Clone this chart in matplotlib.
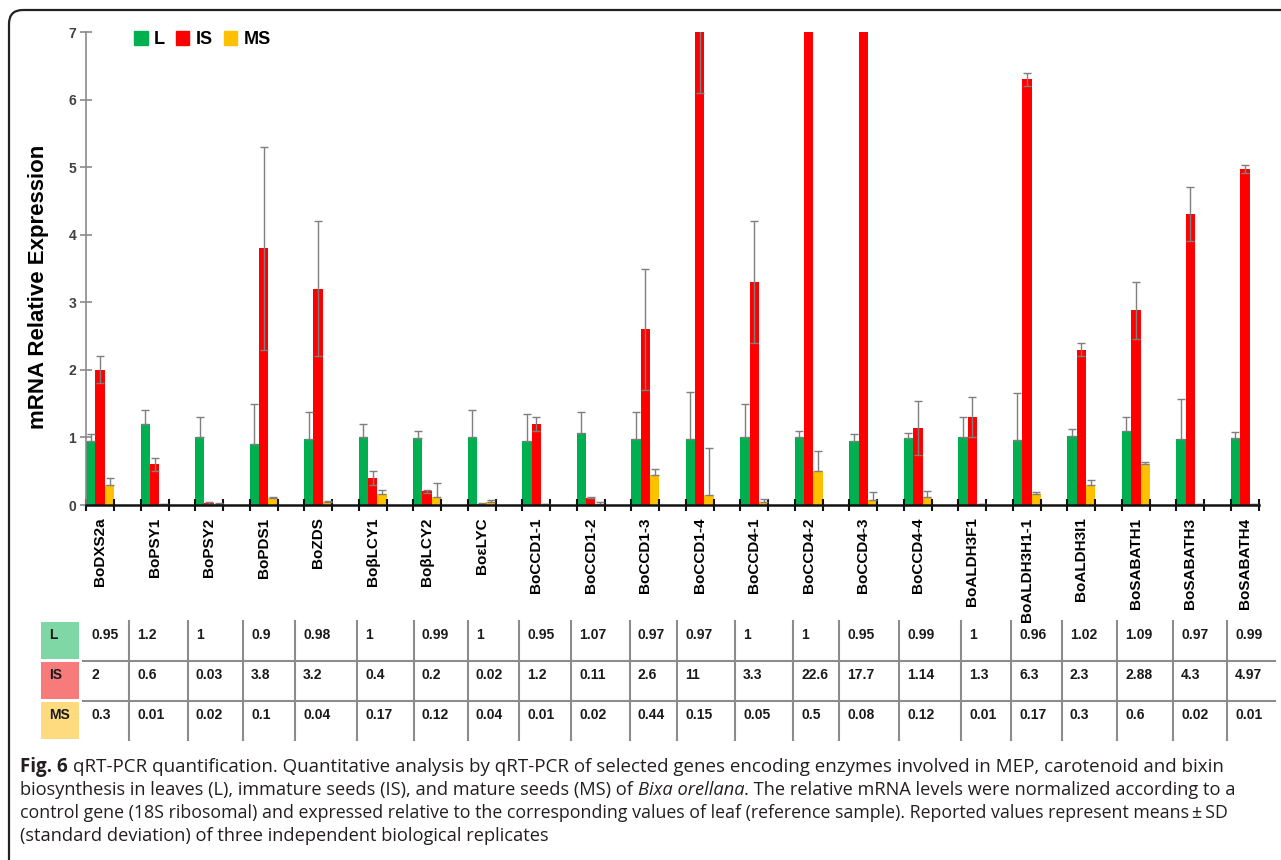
import matplotlib
matplotlib.use("Agg")
import matplotlib.pyplot as plt
import numpy as np
from matplotlib.patches import FancyBboxPatch, Rectangle, Patch

plt.rcParams["font.family"] = ["Liberation Sans", "DejaVu Sans"]

# gene names and mean relative expression (from the table)
genes = ["BoDXS2a", "BoPSY1", "BoPSY2", "BoPDS1", "BoZDS", "BoβLCY1", "BoβLCY2",
         "BoεLYC", "BoCCD1-1", "BoCCD1-2", "BoCCD1-3", "BoCCD1-4", "BoCCD4-1",
         "BoCCD4-2", "BoCCD4-3", "BoCCD4-4", "BoALDH3F1", "BoALDH3H1-1",
         "BoALDH3I1", "BoSABATH1", "BoSABATH3", "BoSABATH4"]
L = [0.95, 1.2, 1, 0.9, 0.98, 1, 0.99, 1, 0.95, 1.07, 0.97, 0.97, 1, 1, 0.95,
     0.99, 1, 0.96, 1.02, 1.09, 0.97, 0.99]
IS = [2, 0.6, 0.03, 3.8, 3.2, 0.4, 0.2, 0.02, 1.2, 0.11, 2.6, 11, 3.3, 22.6,
      17.7, 1.14, 1.3, 6.3, 2.3, 2.88, 4.3, 4.97]
MS = [0.3, 0.01, 0.02, 0.1, 0.04, 0.17, 0.12, 0.04, 0.01, 0.02, 0.44, 0.15,
      0.05, 0.5, 0.08, 0.12, 0.01, 0.17, 0.3, 0.6, 0.02, 0.01]
# standard deviations
L_sd = [0.1, 0.2, 0.3, 0.6, 0.4, 0.2, 0.1, 0.4, 0.4, 0.3, 0.4, 0.7, 0.5, 0.1,
        0.1, 0.07, 0.3, 0.7, 0.1, 0.21, 0.6, 0.09]
IS_sd = [0.2, 0.1, 0.01, 1.5, 1.0, 0.1, 0.02, 0.01, 0.1, 0.01, 0.9, 4.9, 0.9,
         2.0, 1.5, 0.4, 0.3, 0.1, 0.1, 0.42, 0.4, 0.06]
MS_sd = [0.1, 0.0, 0.01, 0.02, 0.02, 0.05, 0.2, 0.03, 0.0, 0.03, 0.1, 0.7,
         0.04, 0.3, 0.11, 0.09, 0.0, 0.02, 0.07, 0.03, 0.0, 0.0]

row_names = ["L", "IS", "MS"]
bar_colors = ["#00B050", "#FF0000", "#FFC000"]
head_colors = ["#80D7A6", "#F77B7B", "#FFDB80"]

W, H = 1281, 860
fig = plt.figure(figsize=(W / 100, H / 100), dpi=100)

# full-figure canvas in pixel units for frame, table and caption
cv = fig.add_axes([0, 0, 1, 1], zorder=0)
cv.set_xlim(0, W)
cv.set_ylim(H, 0)
cv.axis("off")
cv.add_patch(FancyBboxPatch((9, 10), 1400, 1000,
                            boxstyle="round,pad=0,rounding_size=14",
                            fc="none", ec="#222222", lw=1.6))

# ---- bar chart ----
ax = fig.add_axes([86 / W, 1 - 505 / H, (1259 - 86) / W, (505 - 32) / H], zorder=1)
ax.set_facecolor("none")
x = np.arange(len(genes))
w = 0.174
ekw = dict(ecolor="#7f7f7f", elinewidth=1, capsize=3, capthick=1)
ax.bar(x - w, L, w, color=bar_colors[0], label="L",
       yerr=[np.zeros(len(L)), L_sd], error_kw=ekw)
ax.bar(x, IS, w, color=bar_colors[1], label="IS", yerr=IS_sd, error_kw=ekw)
ax.bar(x + w, MS, w, color=bar_colors[2], label="MS",
       yerr=[np.zeros(len(MS)), MS_sd], error_kw=ekw)

ax.set_xlim(-1.5 * w, len(genes) - 1 + 1.5 * w)
ax.set_ylim(0, 7)
ax.set_yticks(range(8))
for sp in ["top", "right"]:
    ax.spines[sp].set_visible(False)
ax.spines["left"].set_color("#8a8a8a")
ax.spines["left"].set_linewidth(1.2)
ax.spines["bottom"].set_color("#111111")
ax.spines["bottom"].set_linewidth(1.8)
ax.tick_params(axis="y", direction="inout", length=8, width=1.2, color="#8a8a8a",
               labelsize=10, labelcolor="#404040", pad=3)
for t in ax.get_yticklabels():
    t.set_fontweight("bold")
ax.set_xticks(x)
ax.set_xticklabels(genes, rotation=90, fontsize=11, fontweight="bold")
ax.tick_params(axis="x", which="major", length=0, pad=9)
edges = np.concatenate([x - 1.5 * w, x + 1.5 * w])
ax.set_xticks(edges, minor=True)
ax.tick_params(axis="x", which="minor", direction="inout", length=9, width=1.5,
               color="#111111")
ax.set_ylabel("mRNA Relative Expression", fontsize=16, fontweight="bold")
ax.yaxis.set_label_coords(-0.0315, 0.462)
handles = [Patch(color=c) for c in bar_colors]
fig.legend(handles, row_names, loc="upper left", bbox_to_anchor=(118 / W, 1 - 15 / H),
           ncol=3, frameon=False, handlelength=0.75, handleheight=0.75,
           handletextpad=0.35, columnspacing=0.6,
           prop=dict(weight="bold", size=13))

# ---- value table ----
col_edges = [83, 129, 188, 243, 295, 357, 414, 468, 519, 571, 630, 677, 735, 793,
             839, 899, 961, 1011, 1062, 1117, 1173, 1227, 1275]
row_top = [622, 662, 702]
row_h = 37
grid = "#8c8c8c"
for r, vals in enumerate([L, IS, MS]):
    cv.add_patch(Rectangle((41, row_top[r]), 38, row_h, fc=head_colors[r], ec="none"))
    cv.text(49, row_top[r] + 13, row_names[r], fontsize=10, fontweight="bold",
            va="center", ha="left", color="#1a1a1a")
    for j, v in enumerate(vals):
        cv.text(col_edges[j] + 8, row_top[r] + 13, "{:g}".format(v), fontsize=10,
                fontweight="bold", va="center", ha="left", color="#1a1a1a")
for xe in col_edges[1:-1]:
    cv.plot([xe, xe], [621, 740], color=grid, lw=1.5)
for ye in [661, 701]:
    cv.plot([83, 1275], [ye, ye], color=grid, lw=1.5)

# ---- caption ----
renderer = fig.canvas.get_renderer()
base = 13.4
cap = dict(family="Open Sans", color="#231f20")


def text_width(s, size, **kw):
    t = cv.text(0, 0, s, fontsize=size, **dict(cap, **kw))
    wd = t.get_window_extent(renderer=renderer).width
    t.remove()
    return wd


def line_width(parts, size):
    sp = text_width("a a", size) - text_width("aa", size)
    total = 0
    for s, extra, gap in parts:
        total += text_width(s, size, **extra) + (sp if gap else 0)
    return total


def draw_line(y, parts, size):
    sp = text_width("a a", size) - text_width("aa", size)
    xp = 20
    for s, extra, gap in parts:
        t = cv.text(xp, y, s, va="baseline", ha="left", fontsize=size, **dict(cap, **extra))
        xp += t.get_window_extent(renderer=renderer).width + (sp if gap else 0)


lines = [
    [("Fig. 6", dict(fontweight="bold"), True),
     ("qRT-PCR quantification. Quantitative analysis by qRT-PCR of selected "
      "genes encoding enzymes involved in MEP, carotenoid and bixin", {}, False)],
    [("biosynthesis in leaves (L), immature seeds (IS), and mature seeds (MS) of", {}, True),
     ("Bixa orellana", dict(style="italic"), False),
     (". The relative mRNA levels were normalized according to a", {}, False)],
    [("control gene (18S ribosomal) and expressed relative to the corresponding "
      "values of leaf (reference sample). Reported values represent means\u2009±\u2009SD",
      {}, False)],
    [("(standard deviation) of three independent biological replicates", {}, False)],
]
# fit each line to the width it has in the original caption
targets = [1205, 1221, 1206, None]
ys = [772, 795, 818, 841]
sizes = []
for parts, tgt in zip(lines, targets):
    if tgt is None:
        sizes.append(float(np.mean(sizes)))
    else:
        sizes.append(base * tgt / line_width(parts, base))
for parts, y, s in zip(lines, ys, sizes):
    draw_line(y, parts, s)

fig.savefig("out.png", dpi=100)
